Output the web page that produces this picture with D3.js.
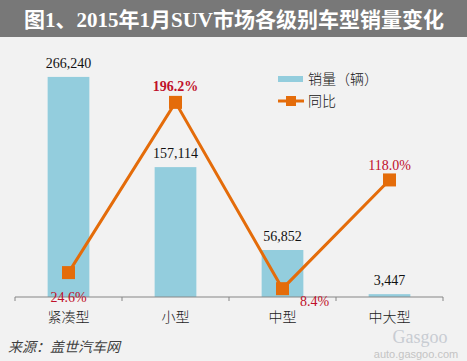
<!DOCTYPE html>
<html>
<head>
<meta charset="utf-8">
<script src="https://cdn.jsdelivr.net/npm/d3@7"></script>
<style>
  body { margin: 0; background: #f2f2f2; }
  svg { display: block; }
</style>
</head>
<body>
<svg id="chart"></svg>
<script>
// 数据
var categories = ["紧凑型", "小型", "中型", "中大型"];
var sales = [266240, 157114, 56852, 3447];
var yoy = [24.6, 196.2, 8.4, 118.0];
var yoyLabels = ["24.6%", "196.2%", "8.4%", "118.0%"];

var width = 467, height = 361;
var margin = { top: 49, left: 15, right: 24, bottom: 64 };

var svg = d3.select("#chart").attr("width", width).attr("height", height);

svg.append("rect").attr("width", width).attr("height", height).attr("fill", "#f2f2f2");

// 标题
svg.append("rect").attr("width", width).attr("height", 37).attr("fill", "#787878");
svg.append("text")
    .attr("x", 234).attr("y", 27)
    .attr("text-anchor", "middle")
    .attr("fill", "#fff")
    .style("font-family", "'Liberation Serif', 'Noto Sans CJK SC', serif")
    .style("font-weight", "bold")
    .style("font-size", "21px")
    .text("图1、2015年1月SUV市场各级别车型销量变化");

var x = d3.scaleBand()
    .domain(categories)
    .range([margin.left, width - margin.right]);

var y = d3.scaleLinear().domain([0, 300000]).range([height - margin.bottom, margin.top]);
var y2 = d3.scaleLinear().domain([0, 250]).range([height - margin.bottom, margin.top]);

var barW = x.bandwidth() * 0.39;

// 柱子
svg.selectAll(".bar")
    .data(sales)
    .enter().append("rect")
    .attr("class", "bar")
    .attr("x", function(d, i) { return x(categories[i]) + x.bandwidth() / 2 - barW / 2; })
    .attr("y", function(d) { return y(d); })
    .attr("width", barW)
    .attr("height", function(d) { return y(0) - y(d); })
    .attr("fill", "#93cddd");

// 坐标轴
var axis = svg.append("g")
    .attr("transform", "translate(0," + y(0) + ")");
axis.append("line")
    .attr("x1", x.range()[0]).attr("x2", x.range()[1])
    .attr("stroke", "#868686");
axis.selectAll(".tick")
    .data(d3.range(categories.length + 1))
    .enter().append("line")
    .attr("x1", function(i) { return x.range()[0] + i * x.step(); })
    .attr("x2", function(i) { return x.range()[0] + i * x.step(); })
    .attr("y1", 0).attr("y2", 4)
    .attr("stroke", "#868686");
axis.selectAll(".cat")
    .data(categories)
    .enter().append("text")
    .attr("x", function(d) { return x(d) + x.bandwidth() / 2; })
    .attr("y", 25)
    .attr("text-anchor", "middle")
    .attr("fill", "#222")
    .style("font-family", "'Noto Sans CJK SC', sans-serif")
    .style("font-weight", 300)
    .style("font-size", "14px")
    .text(function(d) { return d; });

// 销量标签
var fmt = d3.format(",");
svg.selectAll(".vlab")
    .data(sales)
    .enter().append("text")
    .attr("x", function(d, i) { return x(categories[i]) + x.bandwidth() / 2; })
    .attr("y", function(d) { return y(d) - 9; })
    .attr("text-anchor", "middle")
    .attr("fill", "#111")
    .style("font-family", "'Liberation Serif', serif")
    .style("font-size", "14px")
    .text(function(d) { return fmt(d); });

// 同比折线
var cx = function(i) { return x(categories[i]) + x.bandwidth() / 2; };
var line = d3.line()
    .x(function(d, i) { return cx(i); })
    .y(function(d) { return y2(d); });

svg.append("path")
    .datum(yoy)
    .attr("d", line)
    .attr("fill", "none")
    .attr("stroke", "#e46c0a")
    .attr("stroke-width", 3);

svg.selectAll(".mk")
    .data(yoy)
    .enter().append("rect")
    .attr("x", function(d, i) { return cx(i) - 6.5; })
    .attr("y", function(d) { return y2(d) - 6.5; })
    .attr("width", 13).attr("height", 13)
    .attr("fill", "#e46c0a");

// 同比标签位置偏移
var labDx = [0, 0, 32, 0];
var labDy = [24, -16, 12, -15];
svg.selectAll(".plab")
    .data(yoy)
    .enter().append("text")
    .attr("x", function(d, i) { return cx(i) + labDx[i]; })
    .attr("y", function(d, i) { return y2(d) + labDy[i] + 5; })
    .attr("text-anchor", "middle")
    .attr("fill", "#c0102a")
    .style("font-family", "'Liberation Serif', serif")
    .style("font-size", "14px")
    .style("font-weight", function(d, i) { return i === 1 ? "bold" : "normal"; })
    .text(function(d, i) { return yoyLabels[i]; });

// 图例
var lg = svg.append("g").attr("transform", "translate(278,0)");
lg.append("rect").attr("x", 0).attr("y", 76).attr("width", 25).attr("height", 6).attr("fill", "#93cddd");
lg.append("text").attr("x", 30).attr("y", 84)
    .style("font-family", "'Noto Sans CJK SC', sans-serif").style("font-size", "14px")
    .style("font-weight", 300)
    .attr("fill", "#111").text("销量（辆）");
lg.append("line").attr("x1", 0).attr("x2", 26).attr("y1", 101).attr("y2", 101)
    .attr("stroke", "#e46c0a").attr("stroke-width", 3);
lg.append("rect").attr("x", 8).attr("y", 96).attr("width", 10).attr("height", 10).attr("fill", "#e46c0a");
lg.append("text").attr("x", 30).attr("y", 106)
    .style("font-family", "'Noto Sans CJK SC', sans-serif").style("font-size", "14px")
    .style("font-weight", 300)
    .attr("fill", "#111").text("同比");

// 来源
svg.append("text")
    .attr("x", 8).attr("y", 352)
    .attr("fill", "#404040")
    .style("font-family", "'Noto Sans CJK SC', sans-serif")
    .style("font-size", "14px")
    .style("font-style", "italic")
    .text("来源：盖世汽车网");

// 水印
svg.append("text")
    .attr("x", 420).attr("y", 343)
    .attr("text-anchor", "middle")
    .attr("fill", "#c8ccd2")
    .style("font-family", "'Liberation Serif', serif")
    .style("font-size", "18px")
    .text("Gasgoo");
svg.append("text")
    .attr("x", 416).attr("y", 358)
    .attr("text-anchor", "middle")
    .attr("fill", "#c4c4c4")
    .style("font-family", "'Liberation Sans', sans-serif")
    .style("font-size", "11px")
    .text("auto.gasgoo.com");
</script>
</body>
</html>
